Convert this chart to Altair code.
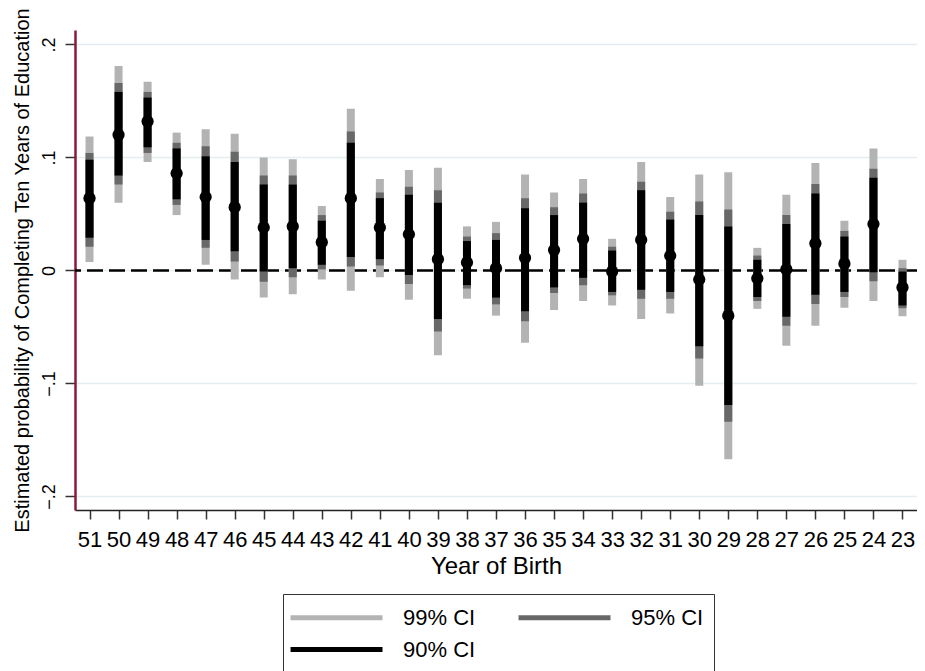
import altair as alt
import pandas as pd

# ---- data ----
years = ["51", "50", "49", "48", "47", "46", "45", "44", "43", "42", "41", "40", "39", "38", "37",
         "36", "35", "34", "33", "32", "31", "30", "29", "28", "27", "26", "25", "24", "23"]

estimate = [0.064, 0.120, 0.132, 0.086, 0.065, 0.056, 0.038, 0.039, 0.025, 0.064, 0.038, 0.032, 0.010, 0.007, 0.002,
            0.011, 0.018, 0.028, -0.001, 0.027, 0.013, -0.008, -0.040, -0.007, 0.001, 0.024, 0.006, 0.041, -0.015]

lo90 = [0.029, 0.084, 0.109, 0.063, 0.027, 0.017, -0.001, 0.002, 0.005, 0.012, 0.010, -0.004, -0.043, -0.013, -0.024,
        -0.036, -0.015, -0.0065, -0.019, -0.017, -0.019, -0.067, -0.119, -0.0235, -0.041, -0.0216, -0.019, -0.0015, -0.031]
hi90 = [0.098, 0.158, 0.153, 0.108, 0.101, 0.096, 0.076, 0.076, 0.044, 0.113, 0.064, 0.067, 0.060, 0.026, 0.027,
        0.055, 0.049, 0.060, 0.0176, 0.071, 0.045, 0.049, 0.039, 0.0094, 0.041, 0.068, 0.030, 0.082, -0.001]

lo95 = [0.021, 0.076, 0.104, 0.058, 0.020, 0.008, -0.010, -0.006, 0.001, 0.0035, 0.0044, -0.012, -0.054, -0.016, -0.030,
        -0.045, -0.020, -0.013, -0.022, -0.025, -0.025, -0.078, -0.134, -0.027, -0.049, -0.0296, -0.0235, -0.0095, -0.0334]
hi95 = [0.104, 0.166, 0.158, 0.113, 0.110, 0.105, 0.084, 0.084, 0.049, 0.123, 0.069, 0.074, 0.071, 0.030, 0.033,
        0.064, 0.056, 0.068, 0.021, 0.0785, 0.052, 0.061, 0.054, 0.0132, 0.049, 0.0765, 0.035, 0.090, 0.002]

lo99 = [0.0074, 0.060, 0.096, 0.049, 0.005, -0.008, -0.024, -0.021, -0.008, -0.018, -0.006, -0.026, -0.075, -0.025, -0.040,
        -0.064, -0.035, -0.027, -0.031, -0.043, -0.038, -0.102, -0.167, -0.034, -0.0666, -0.049, -0.033, -0.027, -0.0405]
hi99 = [0.1185, 0.181, 0.167, 0.122, 0.125, 0.121, 0.100, 0.0985, 0.057, 0.143, 0.081, 0.089, 0.091, 0.039, 0.043,
        0.085, 0.069, 0.081, 0.028, 0.096, 0.065, 0.085, 0.087, 0.020, 0.067, 0.095, 0.044, 0.108, 0.0094]

levels = ["99% CI", "95% CI", "90% CI"]
level_colors = ["#b3b3b3", "#686868", "#000000"]
y_ticks = [-0.2, -0.1, 0, 0.1, 0.2]

# ---- tables ----
ci_rows = []
for lev, lo, hi in zip(levels, [lo99, lo95, lo90], [hi99, hi95, hi90]):
    for yr, a, b in zip(years, lo, hi):
        ci_rows.append({"year": yr, "level": lev, "lo": a, "hi": b})
ci_df = pd.DataFrame(ci_rows)
pt_df = pd.DataFrame({"year": years, "est": estimate})
zero_df = pd.DataFrame({"v": [0.0]})

FONT = "Liberation Sans"

y_scale = alt.Scale(domain=[-0.212, 0.2128], nice=False, zero=False)
x_enc = alt.X(
    "year:N", sort=years,
    scale=alt.Scale(type="point", padding=0.5),
    axis=alt.Axis(
        title="Year of Birth", labelAngle=0, labelFontSize=22, labelFont=FONT,
        labelColor="#000", tickSize=9, tickColor="#333", tickWidth=1.5,
        labelPadding=10, labelOverlap=False, grid=False,
        domainColor="#222", domainWidth=1.5,
        titleFontSize=24, titleFontWeight="normal", titleFont=FONT, titleColor="#000",
        titleY=63, titleBaseline="alphabetic",
    ),
)
y_axis = alt.Axis(
    values=y_ticks,
    labelExpr="datum.value == 0 ? '0' : replace(format(datum.value, '.1f'), '0.', '.')",
    labelAngle=270, labelAlign="center", labelBaseline="middle", labelPadding=16,
    labelFontSize=18, labelFont=FONT, labelColor="#000",
    tickSize=10, tickColor="#333", tickWidth=1.5,
    domainColor="#8a1a3c", domainWidth=2.5,
    grid=True, gridColor="#e4eef0", gridWidth=1.5,
    title="Estimated probability of Completing Ten Years of Education",
    titleAngle=270, titleX=-53, titleY=240, titleAlign="center", titleBaseline="middle",
    titleFontSize=20, titleFontWeight="normal", titleFont=FONT, titleColor="#000",
)

zero_line = alt.Chart(zero_df).mark_rule(color="black", strokeWidth=2.5, strokeDash=[16, 6]).encode(
    y=alt.Y("v:Q", scale=y_scale, axis=y_axis)
)

ci = alt.Chart(ci_df).mark_rule(strokeWidth=8, strokeCap="butt").encode(
    x=x_enc,
    y=alt.Y("lo:Q", scale=y_scale, axis=y_axis),
    y2="hi:Q",
    color=alt.Color(
        "level:N",
        scale=alt.Scale(domain=levels, range=level_colors),
        legend=alt.Legend(
            title=None, orient="none", legendX=208, legendY=564,
            direction="horizontal", columns=2,
            symbolType="M-1.45,0H6.91", symbolSize=484, symbolStrokeWidth=5,
            labelFontSize=22, labelFont=FONT, labelColor="#000", labelOffset=83,
            columnPadding=32, rowPadding=7, padding=10,
            strokeColor="#333",
        ),
    ),
)

pts = alt.Chart(pt_df).mark_circle(size=150, color="black", opacity=1).encode(
    x=x_enc,
    y=alt.Y("est:Q", scale=y_scale, axis=y_axis),
)

chart = alt.layer(zero_line, ci, pts).properties(
    width=842, height=480,
    autosize=alt.AutoSizeParams(type="none"),
    padding={"left": 67, "top": 22, "right": 0, "bottom": 161},
).configure(font=FONT).configure_view(stroke=None)

chart.save("out.html", embed_options={"renderer": "svg", "actions": False})
